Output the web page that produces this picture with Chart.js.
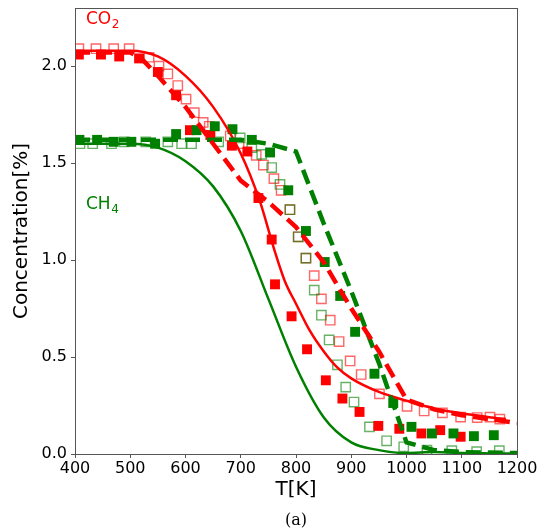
<!DOCTYPE html>
<html><head><meta charset="utf-8">
<script src="https://cdn.jsdelivr.net/npm/chart.js@4/dist/chart.umd.min.js"></script>
<style>html,body{margin:0;padding:0;background:#fff}#wrap{width:547px;height:532px;position:relative}</style>
</head><body><div id="wrap"><canvas id="c" width="547" height="532"></canvas></div>
<script>
// ---- data (T in K, concentration in %) ----
const xTicks = [400,500,600,700,800,900,1000,1100,1200];
const yTicks = [0.0,0.5,1.0,1.5,2.0];

const co2FilledT = [407,447,480,516,550,583,608,645,684,712,732,756,762,792,820,854,884,915,949,987,1027,1061,1098];
const co2FilledC = [2.06,2.06,2.05,2.04,1.97,1.85,1.67,1.645,1.59,1.56,1.32,1.106,0.875,0.71,0.54,0.38,0.286,0.217,0.145,0.13,0.106,0.123,0.089];

const co2OpenT = [407,438,470,498,534,552,568,586,601,616,632,643,681,697,728,741,760,773,789,804,818,833,846,862,878,898,918,951,1001,1032,1065,1098,1128,1151,1169];
const co2OpenC = [2.09,2.09,2.09,2.09,2.046,2.00,1.96,1.90,1.83,1.76,1.71,1.69,1.64,1.60,1.54,1.49,1.42,1.36,1.26,1.12,1.01,0.92,0.80,0.69,0.58,0.48,0.41,0.31,0.246,0.222,0.212,0.19,0.188,0.19,0.18];

const co2SolidT = [400,450,500,550,600,650,700,735,760,780,800,825,850,875,900,950,1000,1050,1100,1150,1180];
const co2SolidC = [2.08,2.08,2.08,2.05,1.95,1.79,1.55,1.30,1.06,0.89,0.775,0.636,0.53,0.445,0.39,0.32,0.275,0.235,0.21,0.19,0.18];

const co2DashT = [400,500,520,550,600,650,700,750,800,850,900,950,1000,1050,1100,1150,1200];
const co2DashC = [2.07,2.07,2.04,1.95,1.79,1.60,1.41,1.30,1.17,0.99,0.75,0.53,0.28,0.23,0.20,0.18,0.16];

const ch4FilledT = [408,440,470,502,545,583,620,653,685,720,753,786,818,852,880,907,942,976,1009,1046,1085,1122,1158];
const ch4FilledC = [1.62,1.62,1.61,1.61,1.60,1.65,1.67,1.69,1.675,1.62,1.555,1.36,1.15,0.99,0.815,0.63,0.414,0.263,0.14,0.106,0.106,0.092,0.097];

const ch4OpenT = [409,432,466,489,528,568,593,611,660,699,720,738,756,771,789,804,818,833,846,860,875,890,905,933,964,995,1037,1082,1127,1168];
const ch4OpenC = [1.60,1.60,1.60,1.61,1.61,1.61,1.60,1.60,1.61,1.63,1.58,1.545,1.477,1.39,1.26,1.12,1.01,0.845,0.716,0.588,0.46,0.345,0.268,0.14,0.068,0.037,0.02,0.017,0.012,0.017];

const ch4SolidT = [400,450,500,550,600,650,700,750,800,850,900,950,1000,1050,1100,1150,1200];
const ch4SolidC = [1.60,1.60,1.60,1.58,1.51,1.38,1.15,0.80,0.45,0.19,0.06,0.02,0.005,0.01,0.005,0.003,0.002];

const ch4DashT = [400,500,600,700,750,800,850,900,950,1000,1050,1100,1200];
const ch4DashC = [1.62,1.62,1.62,1.62,1.60,1.56,1.19,0.84,0.47,0.06,0.02,0.01,0.005];

const RED = '#ff0000', GREEN = '#008000';
const pts = (xs, ys) => xs.map((x, i) => ({x, y: ys[i]}));

function lineDs(xs, ys, color, dashed) {
  return {data: pts(xs, ys), showLine: true, borderColor: color, backgroundColor: color,
    borderWidth: dashed ? 4.5 : 2.5, borderDash: dashed ? [15, 7] : [], pointRadius: 0,
    cubicInterpolationMode: dashed ? 'default' : 'monotone', tension: 0, fill: false};
}
function markDs(xs, ys, color, filled) {
  return {data: pts(xs, ys), showLine: false, pointStyle: 'rect',
    pointRadius: filled ? 7 : 6.6, borderWidth: filled ? 0 : 1.4,
    pointBackgroundColor: filled ? color : 'rgba(0,0,0,0)',
    pointBorderColor: filled ? color : (color === RED ? 'rgba(255,0,0,0.6)' : 'rgba(0,128,0,0.6)')};
}

const datasets = [
  lineDs(co2DashT, co2DashC, RED, true),
  lineDs(ch4DashT, ch4DashC, GREEN, true),
  lineDs(co2SolidT, co2SolidC, RED, false),
  lineDs(ch4SolidT, ch4SolidC, GREEN, false),
  markDs(ch4FilledT, ch4FilledC, GREEN, true),
  markDs(co2FilledT, co2FilledC, RED, true),
  markDs(ch4OpenT, ch4OpenC, GREEN, false),
  markDs(co2OpenT, co2OpenC, RED, false)
];

const AX = '#555';
const boxPlugin = {
  id: 'box',
  afterDraw(chart) {
    const {ctx, chartArea: a} = chart;
    ctx.save();
    ctx.strokeStyle = AX; ctx.lineWidth = 1;
    ctx.strokeRect(a.left + 0.5, a.top + 0.5, a.right - a.left, a.bottom - a.top);
    function chem(main, sub, x, y, color) {
      ctx.fillStyle = color; ctx.textBaseline = 'middle'; ctx.textAlign = 'left';
      ctx.font = '17px "DejaVu Sans"';
      ctx.fillText(main, x, y);
      const w = ctx.measureText(main).width;
      ctx.font = '12px "DejaVu Sans"';
      ctx.fillText(sub, x + w + 0.5, y + 5);
    }
    chem('CO', '2', 86, 20, RED);
    chem('CH', '4', 86, 205, GREEN);
    ctx.fillStyle = '#000'; ctx.textAlign = 'center'; ctx.textBaseline = 'middle';
    ctx.font = '16px "DejaVu Serif"';
    ctx.fillText('(a)', 296, 521);
    ctx.restore();
  }
};

Chart.defaults.font.family = '"DejaVu Sans"';
Chart.defaults.color = '#000';

new Chart(document.getElementById('c'), {
  type: 'scatter',
  data: {datasets},
  plugins: [boxPlugin],
  options: {
    responsive: false, animation: false, events: [],
    layout: {padding: {left: 0, right: 30, top: 6, bottom: 30}},
    plugins: {legend: {display: false}, tooltip: {enabled: false}},
    scales: {
      x: {
        type: 'linear', min: 400, max: 1200,
        afterBuildTicks: s => { s.ticks = xTicks.map(v => ({value: v})); },
        afterFit: s => { s.height = 48; s.paddingLeft = 0; s.paddingRight = 0; },
        ticks: {font: {size: 16}, padding: 1, maxRotation: 0, autoSkip: false, callback: v => String(v)},
        grid: {display: true, drawOnChartArea: false, drawTicks: true, tickLength: 4, color: AX},
        border: {display: true, color: AX},
        title: {display: true, text: 'T[K]', font: {size: 20}, padding: 0}
      },
      y: {
        type: 'linear', min: 0, max: 2.3,
        afterBuildTicks: s => { s.ticks = yTicks.map(v => ({value: v})); },
        afterFit: s => { s.width = 75; s.paddingTop = 0; s.paddingBottom = 0; },
        ticks: {font: {size: 16}, padding: 4, autoSkip: false, callback: v => Number(v).toFixed(1)},
        grid: {display: true, drawOnChartArea: false, drawTicks: true, tickLength: 4, color: AX},
        border: {display: true, color: AX},
        title: {display: true, text: 'Concentration[%]', font: {size: 20}, padding: {top: 10, bottom: 0}}
      }
    }
  }
});
</script>
</body></html>
